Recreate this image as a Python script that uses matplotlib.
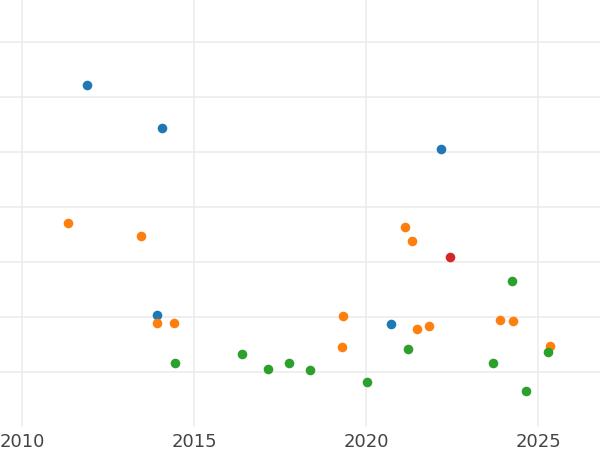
import matplotlib
matplotlib.use("Agg")
import matplotlib.pyplot as plt

# blue series
blue_x = [2011.89, 2014.07, 2022.18, 2013.92, 2020.73]
blue_y = [6.22, 5.44, 5.05, 2.04, 1.87]

# orange series
orange_x = [2011.34, 2013.46, 2013.92, 2014.41, 2019.33, 2019.30, 2021.13,
            2021.34, 2021.48, 2021.83, 2023.90, 2024.27, 2025.34]
orange_y = [3.71, 3.47, 1.89, 1.90, 2.02, 1.45, 3.64,
            3.39, 1.79, 1.83, 1.94, 1.93, 1.47]

# green series
green_x = [2014.46, 2016.40, 2017.15, 2017.76, 2018.37, 2020.03, 2021.21,
           2023.68, 2024.25, 2024.66, 2025.28]
green_y = [1.17, 1.33, 1.05, 1.16, 1.04, 0.82, 1.41,
           1.17, 2.65, 0.65, 1.36]

# red series
red_x = [2022.43]
red_y = [3.09]

xticks = [2010, 2015, 2020, 2025]
yticks = [1, 2, 3, 4, 5, 6, 7]

fig = plt.figure(figsize=(6, 4.5), dpi=100)
ax = fig.add_axes([0, 23 / 450, 1, 427 / 450])

s = 48
ax.scatter(blue_x, blue_y, s=s, color="#1f77b4", linewidths=0, zorder=3)
ax.scatter(orange_x, orange_y, s=s, color="#ff7f0e", linewidths=0, zorder=3)
ax.scatter(green_x, green_y, s=s, color="#2ca02c", linewidths=0, zorder=3)
ax.scatter(red_x, red_y, s=s, color="#d62728", linewidths=0, zorder=3)

ax.set_xlim(2009.36, 2026.8)
ax.set_ylim(0, 7.764)
ax.set_xticks(xticks)
ax.set_xticklabels([str(t) for t in xticks])
ax.set_yticks(yticks)
ax.set_yticklabels([])

ax.grid(True, color="#ebebeb", linewidth=1.1)
ax.set_axisbelow(True)
for sp in ax.spines.values():
    sp.set_visible(False)
ax.tick_params(axis="both", length=0)
ax.tick_params(axis="x", labelsize=13, labelcolor="#444444", pad=4)

fig.savefig("out.png", dpi=100)
